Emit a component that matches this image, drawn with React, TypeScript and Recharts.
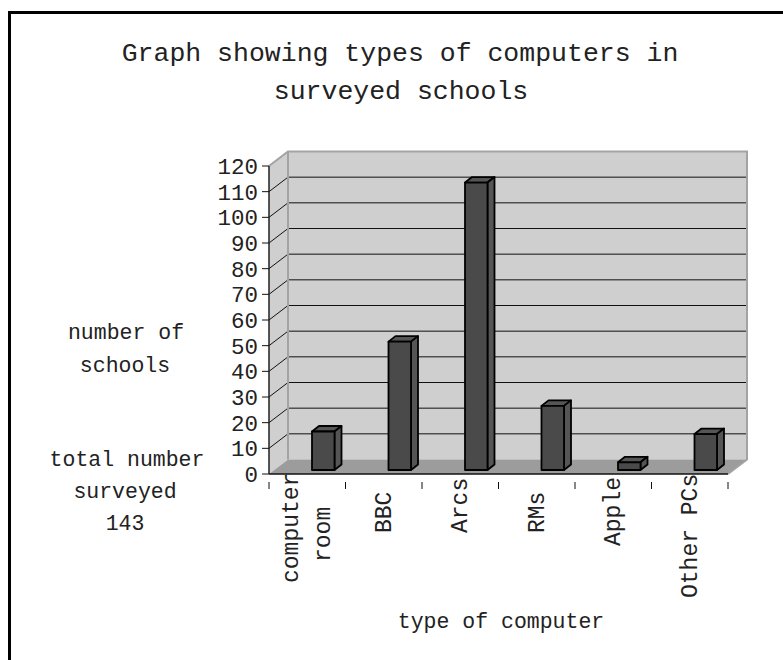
import { BarChart, Bar, XAxis, YAxis, ReferenceArea } from 'recharts'

const categories = ['computer room', 'BBC', 'Arcs', 'RMs', 'Apple', 'Other PCs']
const schools = [15, 50, 112, 25, 3, 14]
const yTicks = [0, 10, 20, 30, 40, 50, 60, 70, 80, 90, 100, 110, 120]

const data = categories.map((name, i) => ({ name, schools: schools[i] }))

const MONO = '"Liberation Mono", monospace'
const INK = '#222'
const YMAX = 120
const PLOT_W = 459

// fake 3D depth of the chart box, and of each bar
const DX = 19
const DY = 14.5
const BAR_DX = 7
const BAR_DY = 5.5
const BAR_SHIFT_X = 16
const BAR_SHIFT_Y = -4

// where each rotated label line starts, the source chart wraps them unevenly
const labelLines: Record<string, { text: string; dx: number; bottom: number }[]> = {
  'computer room': [
    { text: 'computer', dx: -9, bottom: 583 },
    { text: 'room', dx: 23, bottom: 562 },
  ],
  BBC: [{ text: 'BBC', dx: 7, bottom: 533 }],
  Arcs: [{ text: 'Arcs', dx: 7, bottom: 533 }],
  RMs: [{ text: 'RMs', dx: 7, bottom: 533 }],
  Apple: [{ text: 'Apple', dx: 7, bottom: 546 }],
  'Other PCs': [{ text: 'Other PCs', dx: 7, bottom: 598 }],
}

function Box3D({ x, y, width, height }: any) {
  const right = x + width
  const bottom = y + height
  return (
    <g>
      <polygon points={`${x},${y} ${x + DX},${y - DY} ${x + DX},${bottom - DY} ${x},${bottom}`} fill="#cfcfcf" />
      <rect x={x + DX} y={y - DY} width={width} height={height} fill="#cfcfcf" />
      <polygon
        points={`${x},${bottom} ${x + DX},${bottom - DY} ${right + DX},${bottom - DY} ${right},${bottom}`}
        fill="#9c9c9c"
      />
      {yTicks.filter(t => t > 0 && t < YMAX).map(t => {
        const ty = bottom - (t / YMAX) * height
        return (
          <polyline
            key={t}
            points={`${x},${ty} ${x + DX},${ty - DY} ${right + DX},${ty - DY}`}
            fill="none"
            stroke="#111"
            strokeWidth={1}
          />
        )
      })}
      <polyline
        points={`${x},${y} ${x + DX},${y - DY} ${right + DX},${y - DY} ${right + DX},${bottom - DY} ${right},${bottom}`}
        fill="none"
        stroke="#a3a3a3"
        strokeWidth={2}
      />
      <line x1={x + DX} y1={y - DY} x2={x + DX} y2={bottom - DY} stroke="#a3a3a3" strokeWidth={2} />
    </g>
  )
}

function Bar3D({ x, y, width, height }: any) {
  const l = x + BAR_SHIFT_X
  const t = y + BAR_SHIFT_Y
  const r = l + width
  const b = t + height
  return (
    <g stroke="#000" strokeWidth={1.8} strokeLinejoin="round">
      <polygon points={`${l},${t} ${l + BAR_DX},${t - BAR_DY} ${r + BAR_DX},${t - BAR_DY} ${r},${t}`} fill="#555" />
      <polygon points={`${r},${t} ${r + BAR_DX},${t - BAR_DY} ${r + BAR_DX},${b - BAR_DY} ${r},${b}`} fill="#555" />
      <rect x={l} y={t} width={width} height={height} fill="#4a4a4a" />
    </g>
  )
}

function CategoryTick({ x, y, payload, index }: any) {
  const step = PLOT_W / categories.length
  const last = index === categories.length - 1
  return (
    <g>
      <line x1={x - step / 2} y1={y} x2={x - step / 2} y2={y + 7} stroke="#111" />
      {last && <line x1={x + step / 2} y1={y} x2={x + step / 2} y2={y + 7} stroke="#111" />}
      {labelLines[payload.value].map(line => (
        <text
          key={line.text}
          x={x + line.dx}
          y={line.bottom}
          transform={`rotate(-90 ${x + line.dx} ${line.bottom})`}
          fontFamily={MONO}
          fontSize={23}
          fill={INK}
        >
          {line.text}
        </text>
      ))}
    </g>
  )
}

const captionStyle = { fontFamily: MONO, fontSize: 21.5, fill: INK, textAnchor: 'middle' as const }
const titleStyle = { fontFamily: MONO, fontSize: 26.5, fill: INK, textAnchor: 'middle' as const }

export default function App() {
  return (
    <div style={{ position: 'absolute', left: 0, top: 0, width: 783, height: 660, overflow: 'hidden', background: '#fff' }}>
      <div
        style={{
          position: 'absolute',
          left: 8,
          top: 11,
          width: 800,
          height: 700,
          borderLeft: '3px solid #000',
          borderTop: '3px solid #000',
        }}
      />
      <div style={{ position: 'absolute', left: 0, top: 0 }}>
        <BarChart
          width={783}
          height={660}
          data={data}
          barSize={22.5}
          margin={{ top: 166, right: 55, bottom: 126, left: 209 }}
        >
          <ReferenceArea y1={0} y2={YMAX} shape={Box3D} fill="none" ifOverflow="visible" />
          <XAxis
            dataKey="name"
            interval={0}
            height={60}
            tickLine={false}
            axisLine={{ stroke: '#111', strokeWidth: 1.5 }}
            tick={CategoryTick}
          />
          <YAxis
            width={60}
            domain={[0, YMAX]}
            ticks={yTicks}
            interval={0}
            tickSize={7}
            tickMargin={4}
            axisLine={{ stroke: '#222', strokeWidth: 1.5 }}
            tickLine={{ stroke: '#111' }}
            tick={{ fontFamily: MONO, fontSize: 22.5, fill: INK }}
          />
          <Bar dataKey="schools" shape={Bar3D} isAnimationActive={false} />
          <text x={400} y={61} {...titleStyle}>Graph showing types of computers in</text>
          <text x={401} y={99} {...titleStyle}>surveyed schools</text>
          <text x={126} y={339} {...captionStyle}>number of</text>
          <text x={125} y={372} {...captionStyle}>schools</text>
          <text x={127} y={466} {...captionStyle}>total number</text>
          <text x={125} y={498} {...captionStyle}>surveyed</text>
          <text x={125} y={530} {...captionStyle}>143</text>
          <text x={501} y={628} {...captionStyle}>type of computer</text>
        </BarChart>
      </div>
    </div>
  )
}
